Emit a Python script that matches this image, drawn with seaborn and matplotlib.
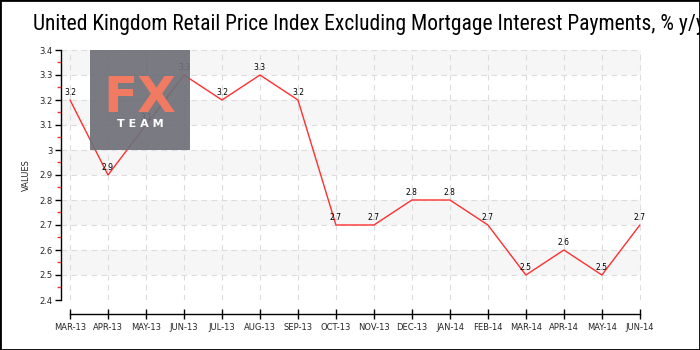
import matplotlib
matplotlib.use("Agg")
import matplotlib.pyplot as plt
import seaborn as sns
import numpy as np
import pandas as pd
from matplotlib.patches import Rectangle
from matplotlib.ticker import MultipleLocator, FuncFormatter

months = ["MAR-13", "APR-13", "MAY-13", "JUN-13", "JUL-13", "AUG-13", "SEP-13", "OCT-13",
          "NOV-13", "DEC-13", "JAN-14", "FEB-14", "MAR-14", "APR-14", "MAY-14", "JUN-14"]
values = [3.2, 2.9, 3.1, 3.3, 3.2, 3.3, 3.2, 2.7, 2.7, 2.8, 2.8, 2.7, 2.5, 2.6, 2.5, 2.7]
title = "United Kingdom Retail Price Index Excluding Mortgage Interest Payments, % y/y"
ylabel = "VALUES"
y_ticks = [2.4, 2.5, 2.6, 2.7, 2.8, 2.9, 3.0, 3.1, 3.2, 3.3, 3.4]

sns.set_theme(style="white")
plt.rcParams["font.family"] = ["DejaVu Sans"]

df = pd.DataFrame({"pos": np.arange(len(months)), "value": values})

fig = plt.figure(figsize=(7, 3.5), dpi=100)
ax = fig.add_axes([61/700, 50/350, 580/700, 250/350])
ax.set_facecolor("white")

# alternating bands
for i in range(len(y_ticks) - 1):
    if i % 2 == 1:
        ax.axhspan(y_ticks[i], y_ticks[i + 1], color="#f6f6f6", zorder=0, lw=0)

sns.lineplot(data=df, x="pos", y="value", ax=ax, color="#ff3030", lw=1.0, zorder=3)

for x, v in zip(df["pos"], df["value"]):
    ax.annotate(f"{v:g}", (x, v), xytext=(0, 2), textcoords="offset points",
                ha="center", va="bottom", fontsize=5.5, color="black", zorder=4)

ax.set_xlim(-0.237, 15.03)
ax.set_ylim(2.4, 3.4)
ax.set_xticks(df["pos"])
ax.set_xticklabels(months)
ax.set_yticks(y_ticks)
ax.yaxis.set_major_formatter(FuncFormatter(lambda v, p: f"{v:g}"))
ax.yaxis.set_minor_locator(MultipleLocator(0.05))

ax.grid(True, which="major", color="#dcdcdc", ls=(0, (5, 4)), lw=0.8, zorder=1)
ax.set_axisbelow(True)

for s in ["top", "right"]:
    ax.spines[s].set_visible(False)
ax.spines["bottom"].set_position(("outward", 10))
ax.spines["bottom"].set_bounds(0, 15)
ax.spines["bottom"].set_color("black")
ax.spines["left"].set_color("black")
ax.spines["bottom"].set_linewidth(1.0)
ax.spines["left"].set_linewidth(1.0)

ax.tick_params(axis="x", which="major", direction="inout", length=7, width=1,
               color="black", labelsize=6, pad=3, bottom=True)
ax.tick_params(axis="y", which="major", direction="out", length=4, width=1,
               color="black", labelsize=6, pad=2, left=True)
ax.tick_params(axis="y", which="minor", direction="out", length=3, width=1,
               color="#ff3030", left=True)

ax.set_xlabel("")
ax.set_ylabel(ylabel, fontsize=6, labelpad=6)

# logo
fig.patches.append(Rectangle((90/700, 200/350), 100/700, 100/350, transform=fig.transFigure,
                             facecolor="#6f6f78", alpha=0.92, zorder=2, lw=0))
ax.set_zorder(1)
fig.text(140/700, (350-112)/350, "FX", color="#f07a62", fontsize=36, fontweight="bold",
         ha="center", va="baseline", zorder=3)
fig.text(140/700, (350-127)/350, "T E A M", color="white", fontsize=8, fontweight="bold",
         ha="center", va="baseline", zorder=3)

fig.text(33/700, (350-30)/350, title, fontsize=15.5, ha="left", va="baseline",
         family=["Roboto Condensed", "Liberation Sans Narrow", "Roboto"], color="black")

fig.patches.append(Rectangle((0, 0), 1, 1, transform=fig.transFigure, fill=False,
                             edgecolor="black", lw=2, zorder=10))

fig.savefig("out.png", dpi=100)
